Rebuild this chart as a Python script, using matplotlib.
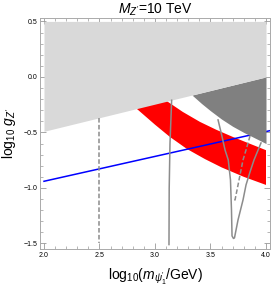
import numpy as np
import matplotlib
matplotlib.use("Agg")
import matplotlib.pyplot as plt

plt.rcParams['font.family'] = ['Liberation Sans', 'DejaVu Sans']
plt.rcParams['mathtext.fontset'] = 'custom'
plt.rcParams['mathtext.rm'] = 'Liberation Sans'
plt.rcParams['mathtext.it'] = 'Liberation Sans:italic'

# light gray excluded region: lower boundary line
gray_x = [2.0, 4.0]
gray_low = [-0.49, 0.0]
gray_top = 0.5

# dark gray region, lower-left boundary
dark_x = [3.333, 3.42, 3.5, 3.60, 3.70, 3.80, 3.90, 4.0]
dark_y = [-0.163, -0.24, -0.305, -0.38, -0.445, -0.50, -0.55, -0.60]

# red band edges
red_up_x = [3.0, 3.117, 3.25, 3.405, 3.55, 3.70, 3.85, 4.0]
red_up_y = [-0.15, -0.225, -0.315, -0.405, -0.475, -0.54, -0.60, -0.66]
red_lo_x = [2.80, 2.847, 3.0, 3.135, 3.288, 3.45, 3.6, 3.8, 4.0]
red_lo_y = [-0.26, -0.297, -0.43, -0.541, -0.649, -0.74, -0.815, -0.90, -0.973]

# blue line
blue_x = [2.0, 4.036]
blue_y = [-0.94, -0.484]

# gray contours
dash1_x = [2.5, 2.5]
dash1_y = [-0.367, -1.5]
solid1_x = [3.15, 3.135, 3.128, 3.126]
solid1_y = [-0.21, -0.6, -1.0, -1.51]
vee_x = [3.568, 3.60, 3.631, 3.660, 3.680, 3.689, 3.694, 3.707,
         3.716, 3.748, 3.793, 3.820, 3.856, 3.892, 3.955]
vee_y = [-0.387, -0.52, -0.658, -0.748, -0.928, -1.198, -1.432, -1.455,
         -1.450, -1.288, -1.108, -0.973, -0.856, -0.748, -0.595]
dash2_x = [3.856, 3.820, 3.793, 3.766, 3.739, 3.721, 3.698]
dash2_y = [-0.532, -0.658, -0.748, -0.883, -1.018, -1.108, -1.113]

fig = plt.figure(figsize=(2.73, 2.87), dpi=100)
ax = fig.add_axes([0.1465, 0.1324, 0.8425, 0.8046])

# red band
ax.fill(red_lo_x + red_up_x[::-1], red_lo_y + red_up_y[::-1], color='#ff0000', lw=0, zorder=1)
ax.plot(blue_x, blue_y, color='#0000ff', lw=1.1, zorder=2)

# dark gray
dx = np.array(dark_x)
ax.fill_between(dx, dark_y, np.interp(dx, gray_x, gray_low), color='#808080', lw=0, zorder=3)

# light gray
ax.fill_between(gray_x, gray_low, gray_top, color='#d9d9d9', lw=0, zorder=4)

lc = '#8c8c8c'
ax.plot(dash1_x, dash1_y, color=lc, lw=1.1, ls=(0, (3, 1.5)), zorder=5)
ax.plot(solid1_x, solid1_y, color=lc, lw=1.1, zorder=5)
ax.plot(vee_x, vee_y, color=lc, lw=1.1, zorder=5)
ax.plot(dash2_x, dash2_y, color=lc, lw=1.1, ls=(0, (3, 1.5)), zorder=5)

ax.set_xlim(1.964, 4.036)
ax.set_ylim(-1.55, 0.53)
ax.set_xticks([2.0, 2.5, 3.0, 3.5, 4.0])
ax.set_xticklabels(['2.0', '2.5', '3.0', '3.5', '4.0'])
ax.set_yticks([-1.5, -1.0, -0.5, 0.0, 0.5])
ax.set_yticklabels(['\u22121.5', '\u22121.0', '\u22120.5', '0.0', '0.5'])
ax.set_xticks(np.arange(2.0, 4.01, 0.1), minor=True)
ax.set_yticks(np.arange(-1.5, 0.51, 0.1), minor=True)
ax.tick_params(which='both', direction='in', top=True, right=True, color='#999999',
               labelsize=5, pad=2)
ax.tick_params(which='major', length=4, width=0.6)
ax.tick_params(which='minor', length=2, width=0.5)
for s in ax.spines.values():
    s.set_color('#aaaaaa')
    s.set_linewidth(0.7)

ax.set_title(r"$M_{Z'}$=10 TeV", fontsize=10, pad=3)
ax.set_xlabel(r"log$_{10}$($m_{\psi_1'}$/GeV)", fontsize=10, labelpad=6)
ax.set_ylabel(r"log$_{10}$ $g_{Z'}$", fontsize=10, labelpad=4)

fig.savefig('out.png', dpi=100)
